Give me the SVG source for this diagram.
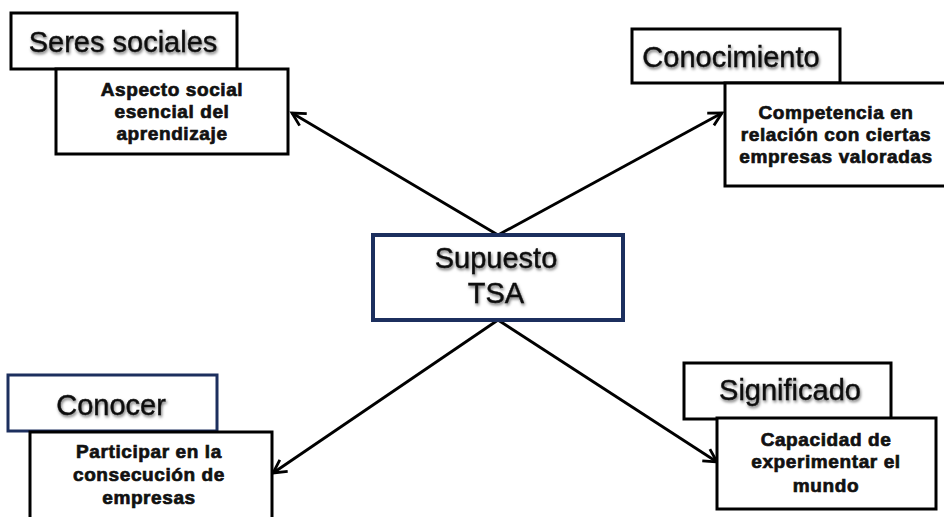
<svg xmlns="http://www.w3.org/2000/svg" width="944" height="517" viewBox="0 0 944 517">
<defs>
<filter id="sh" x="-10%" y="-30%" width="120%" height="160%">
<feDropShadow dx="1" dy="2" stdDeviation="1.5" flood-color="#000" flood-opacity="0.55"/>
</filter>
<marker id="arr" markerUnits="userSpaceOnUse" markerWidth="18" markerHeight="18" refX="15" refY="8" orient="auto" viewBox="0 0 18 16">
<path d="M2,1 L15,8 L2,15" fill="none" stroke="#000" stroke-width="2.8" stroke-linejoin="miter"/>
</marker>
<style>
.box{fill:#fff;stroke:#000;stroke-width:3}
.nbox{fill:#fff;stroke:#1c2f5e;stroke-width:3}
.cbox{fill:#fff;stroke:#1c2f5e;stroke-width:4}
.title{font-family:"Liberation Sans",Arial,sans-serif;font-size:29px;fill:#111;stroke:#111;stroke-width:0.4;text-anchor:middle;filter:url(#sh)}
.body{font-family:"Liberation Sans",Arial,sans-serif;font-size:19px;font-weight:bold;fill:#111;stroke:#111;stroke-width:0.7;letter-spacing:0.6px;text-anchor:middle}
.con{stroke:#000;stroke-width:2.8;fill:none;marker-end:url(#arr)}
</style>
</defs>
<rect width="944" height="517" fill="#fff"/>
<g id="connectors">
<line class="con" x1="498" y1="235" x2="292" y2="113"/>
<line class="con" x1="498" y1="235" x2="722" y2="113"/>
<line class="con" x1="498" y1="320" x2="273" y2="473"/>
<line class="con" x1="498" y1="320" x2="717" y2="462"/>
</g>
<g id="seres">
<rect class="box" x="11" y="13" width="226" height="56"/>
<text class="title" x="123" y="52">Seres sociales</text>
</g>
<g id="aspecto">
<rect class="box" x="56" y="69" width="232" height="85"/>
<text class="body" x="172" y="96">Aspecto social</text>
<text class="body" x="172" y="118">esencial del</text>
<text class="body" x="172" y="140">aprendizaje</text>
</g>
<g id="conocimiento">
<rect class="box" x="632" y="29" width="208" height="54"/>
<text class="title" x="731" y="67">Conocimiento</text>
</g>
<g id="competencia">
<rect class="box" x="725" y="83" width="225" height="103"/>
<text class="body" x="836" y="119">Competencia en</text>
<text class="body" x="836" y="141">relación con ciertas</text>
<text class="body" x="836" y="163">empresas valoradas</text>
</g>
<g id="supuesto">
<rect class="cbox" x="373" y="235" width="250" height="85"/>
<text class="title" x="496" y="268">Supuesto</text>
<text class="title" x="496" y="303">TSA</text>
</g>
<g id="conocer">
<rect class="nbox" x="8" y="375" width="209" height="56"/>
<text class="title" x="111" y="415">Conocer</text>
</g>
<g id="participar">
<rect class="box" x="30" y="432" width="242" height="95"/>
<text class="body" x="149" y="458">Participar en la</text>
<text class="body" x="149" y="481">consecución de</text>
<text class="body" x="149" y="504">empresas</text>
</g>
<g id="significado">
<rect class="box" x="684" y="363" width="207" height="56"/>
<text class="title" x="790" y="400">Significado</text>
</g>
<g id="capacidad">
<rect class="box" x="717" y="418" width="219" height="91"/>
<text class="body" x="826" y="446">Capacidad de</text>
<text class="body" x="826" y="468">experimentar el</text>
<text class="body" x="826" y="492">mundo</text>
</g>
</svg>
